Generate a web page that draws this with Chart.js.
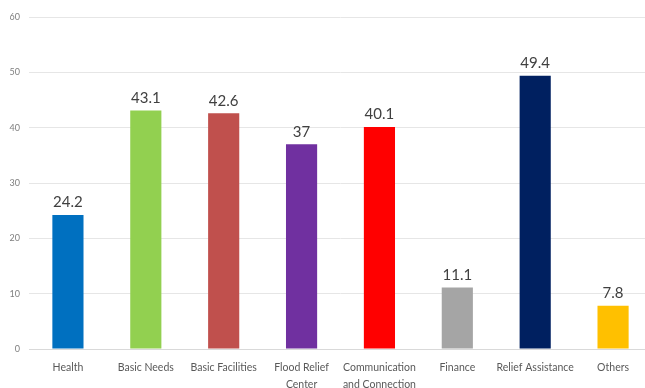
<!DOCTYPE html>
<html>
<head>
<meta charset="utf-8">
<script src="https://cdn.jsdelivr.net/npm/chart.js@4"></script>
<style>
  html, body { margin: 0; padding: 0; background: #fff; overflow: hidden; }
  #wrap { width: 652px; height: 388px; }
</style>
</head>
<body>
<div id="wrap"><canvas id="grafico"></canvas></div>
<script>
// Dados do gráfico
const categorias = ['Health', 'Basic Needs', 'Basic Facilities', ['Flood Relief', 'Center'],
    ['Communication', 'and Connection'], 'Finance', 'Relief Assistance', 'Others'];
const valores = [24.2, 43.1, 42.6, 37, 40.1, 11.1, 49.4, 7.8];
const cores = ['#0070C0', '#92D050', '#C0504D', '#7030A0', '#FF0000', '#A5A5A5', '#002060', '#FFC000'];
const ticksY = [0, 10, 20, 30, 40, 50, 60];

// Plugin simples para escrever o valor acima de cada barra
const rotulosValores = {
    id: 'rotulosValores',
    afterDatasetsDraw(chart) {
        const ctx = chart.ctx;
        const meta = chart.getDatasetMeta(0);
        ctx.save();
        ctx.font = '15px Lato';
        ctx.fillStyle = '#404040';
        ctx.textAlign = 'center';
        ctx.textBaseline = 'bottom';
        meta.data.forEach((barra, i) => {
            ctx.fillText(String(valores[i]), barra.x, barra.y - 5);
        });
        ctx.restore();
    }
};

new Chart(document.getElementById('grafico').getContext('2d'), {
    type: 'bar',
    data: {
        labels: categorias,
        datasets: [{
            data: valores,
            backgroundColor: cores,
            categoryPercentage: 1,
            barPercentage: 0.4
        }]
    },
    options: {
        responsive: true,
        maintainAspectRatio: false,
        animation: false,
        layout: { padding: { top: 17, right: 0, left: 0, bottom: 0 } },
        plugins: { legend: { display: false }, tooltip: { enabled: false } },
        scales: {
            x: {
                grid: { display: false },
                border: { color: '#d9d9d9' },
                ticks: { color: '#595959', font: { family: 'Lato', size: 10.5, lineHeight: 1.6 }, maxRotation: 0, autoSkip: false, padding: 2 },
                afterFit(scale) { scale.height = 39; }
            },
            y: {
                min: 0,
                max: 60,
                afterBuildTicks(scale) { scale.ticks = ticksY.map(v => ({ value: v })); },
                grid: { color: '#e6e6e6', drawTicks: false },
                border: { display: false },
                ticks: { color: '#7f7f7f', font: { family: 'Lato', size: 9 }, padding: 9 },
                afterFit(scale) { scale.width = 29; }
            }
        }
    },
    plugins: [rotulosValores]
});
</script>
</body>
</html>
